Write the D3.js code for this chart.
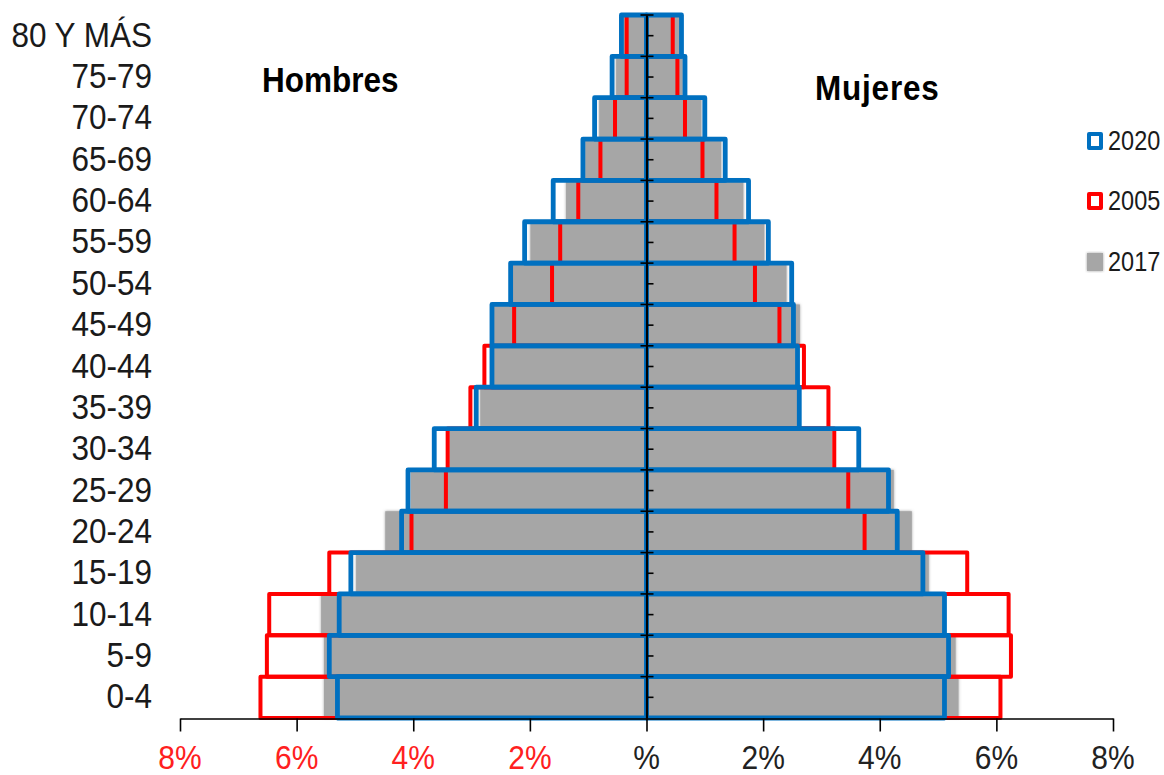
<!DOCTYPE html>
<html>
<head>
<meta charset="utf-8">
<script src="https://cdn.jsdelivr.net/npm/d3@7/dist/d3.min.js"></script>
<style>
  html, body { margin: 0; padding: 0; background: #ffffff; }
  svg { display: block; }
  text { font-family: "Liberation Sans", Arial, sans-serif; }
</style>
</head>
<body>
<svg id="chart" width="1164" height="775"></svg>
<script>
// ---------- data ----------
const ages = ["80 Y MÁS","75-79","70-74","65-69","60-64","55-59","50-54","45-49","40-44",
              "35-39","30-34","25-29","20-24","15-19","10-14","5-9","0-4"];

const men2020   = [0.43,0.59,0.89,1.09,1.60,2.09,2.33,2.65,2.65,2.92,3.64,4.09,4.20,5.07,5.27,5.44,5.30];
const men2005   = [0.34,0.34,0.54,0.79,1.17,1.48,1.62,2.27,2.78,3.02,3.41,3.44,4.03,5.44,6.47,6.51,6.62];
const men2017   = [0.40,0.52,0.81,1.05,1.38,1.99,2.30,2.62,2.63,2.85,3.38,4.04,4.48,4.98,5.58,5.53,5.53];

const women2020 = [0.60,0.66,1.00,1.35,1.75,2.09,2.49,2.52,2.59,2.62,3.64,4.15,4.30,4.74,5.11,5.18,5.11];
const women2005 = [0.45,0.53,0.66,0.96,1.20,1.51,1.86,2.28,2.70,3.12,3.22,3.46,3.74,5.50,6.21,6.25,6.07];
const women2017 = [0.57,0.62,0.94,1.28,1.66,2.02,2.40,2.63,2.58,2.58,3.18,4.24,4.55,4.84,5.08,5.30,5.35];

const xTicks      = [-8,-6,-4,-2,0,2,4,6,8];
const xTickLabels = ["8%","6%","4%","2%","%","2%","4%","6%","8%"];
const legendYears = ["2020","2005","2017"];

// ---------- styles ----------
const BLUE = "#0070C0", RED = "#FF0000", GRAY = "#A6A6A6", TXT = "#1a1a1a";
const SY = 1.13; // vertical stretch of text in the reference

const svg = d3.select("#chart");

const x = d3.scaleLinear().domain([-8, 8]).range([180, 1113]);
const y = d3.scaleBand().domain(ages).range([15, 718]).paddingInner(0).paddingOuter(0);
const bw = y.bandwidth();

// shadow for gray bars
const defs = svg.append("defs");
const f = defs.append("filter").attr("id","soft").attr("x","-10%").attr("y","-10%").attr("width","120%").attr("height","120%");
f.append("feDropShadow").attr("dx",0).attr("dy",0).attr("stdDeviation",1.6).attr("flood-color","#9a9a9a").attr("flood-opacity",0.9);

function rows(vals, side) {
  return ages.map((a, i) => ({ age: a, v: vals[i], side }));
}
function rx(d) { return d.side < 0 ? x(-d.v) : x(0); }
function rw(d) { return d.side < 0 ? x(0) - x(-d.v) : x(d.v) - x(0); }

// 2017 gray filled
const g17 = svg.append("g").attr("filter","url(#soft)");
g17.selectAll("rect").data(rows(men2017,-1).concat(rows(women2017,1))).join("rect")
  .attr("x", rx).attr("y", d => y(d.age)).attr("width", rw).attr("height", bw)
  .attr("fill", GRAY);

// 2005 red outline
svg.append("g").selectAll("rect").data(rows(men2005,-1).concat(rows(women2005,1))).join("rect")
  .attr("x", rx).attr("y", d => y(d.age)).attr("width", rw).attr("height", bw)
  .attr("fill", "none").attr("stroke", RED).attr("stroke-width", 4).attr("stroke-linejoin","round");

// 2020 blue outline
svg.append("g").selectAll("rect").data(rows(men2020,-1).concat(rows(women2020,1))).join("rect")
  .attr("x", rx).attr("y", d => y(d.age)).attr("width", rw).attr("height", bw)
  .attr("fill", "none").attr("stroke", BLUE).attr("stroke-width", 4.8).attr("stroke-linejoin","round");

// ---------- center vertical axis ----------
const yAxis = d3.axisRight(y).tickSize(7).tickSizeOuter(0).tickFormat("");
const yg = svg.append("g").attr("transform", `translate(${x(0)},0)`).call(yAxis);
yg.select(".domain").attr("stroke", "#000").attr("stroke-width", 2.2);
yg.selectAll(".tick line").attr("stroke", "#000").attr("stroke-width", 1.6);
// boundary ticks (crossing)
const bounds = ages.map(a => y(a));
svg.append("g").selectAll("line").data(bounds).join("line")
  .attr("x1", x(0) - 6).attr("x2", x(0) + 7)
  .attr("y1", d => d).attr("y2", d => d)
  .attr("stroke", "#000").attr("stroke-width", 1.6);

// ---------- bottom axis ----------
const xAxis = d3.axisBottom(x).tickValues(xTicks).tickSize(13).tickSizeOuter(0).tickFormat("");
const xg = svg.append("g").attr("transform", "translate(0,718.5)").call(xAxis);
xg.select(".domain").attr("stroke", "#000").attr("stroke-width", 1.6);
xg.selectAll(".tick line").attr("stroke", "#000").attr("stroke-width", 1.6);

svg.append("g").selectAll("text").data(xTicks).join("text")
  .attr("transform", d => `translate(${x(d)},769) scale(1,${SY})`)
  .attr("text-anchor", "middle")
  .attr("font-size", 30)
  .attr("fill", d => d < 0 ? "#FF2020" : "#222")
  .text((d, i) => xTickLabels[i]);

// ---------- category labels ----------
svg.append("g").selectAll("text").data(ages).join("text")
  .attr("transform", a => `translate(152,${y(a) + bw / 2 + 11}) scale(1,${SY})`)
  .attr("text-anchor", "end")
  .attr("font-size", 31.5)
  .attr("fill", TXT)
  .text(a => a);

// ---------- side titles ----------
svg.append("text")
  .attr("transform", `translate(262,92) scale(1,${SY})`)
  .attr("font-size", 31.5).attr("font-weight", "bold").attr("fill", "#000")
  .text("Hombres");
svg.append("text")
  .attr("transform", `translate(815,100) scale(1,${SY})`)
  .attr("font-size", 31.5).attr("font-weight", "bold").attr("fill", "#000")
  .attr("letter-spacing", 0.8)
  .text("Mujeres");

// ---------- legend ----------
const legY = [150, 210, 271];
const leg = svg.append("g");
legendYears.forEach((yr, i) => {
  const by = legY[i];
  if (i === 2) {
    leg.append("rect").attr("x", 1087).attr("y", by - 18).attr("width", 16).attr("height", 18)
      .attr("fill", GRAY).attr("filter","url(#soft)");
  } else {
    leg.append("rect").attr("x", 1089).attr("y", by - 16).attr("width", 12).attr("height", 14)
      .attr("fill", "#fff").attr("stroke", i === 0 ? BLUE : RED).attr("stroke-width", 4)
      .attr("stroke-linejoin","round");
  }
  leg.append("text")
    .attr("transform", `translate(1108,${by}) scale(1,1.15)`)
    .attr("font-size", 23.5).attr("fill", TXT)
    .text(yr);
});
</script>
</body>
</html>
